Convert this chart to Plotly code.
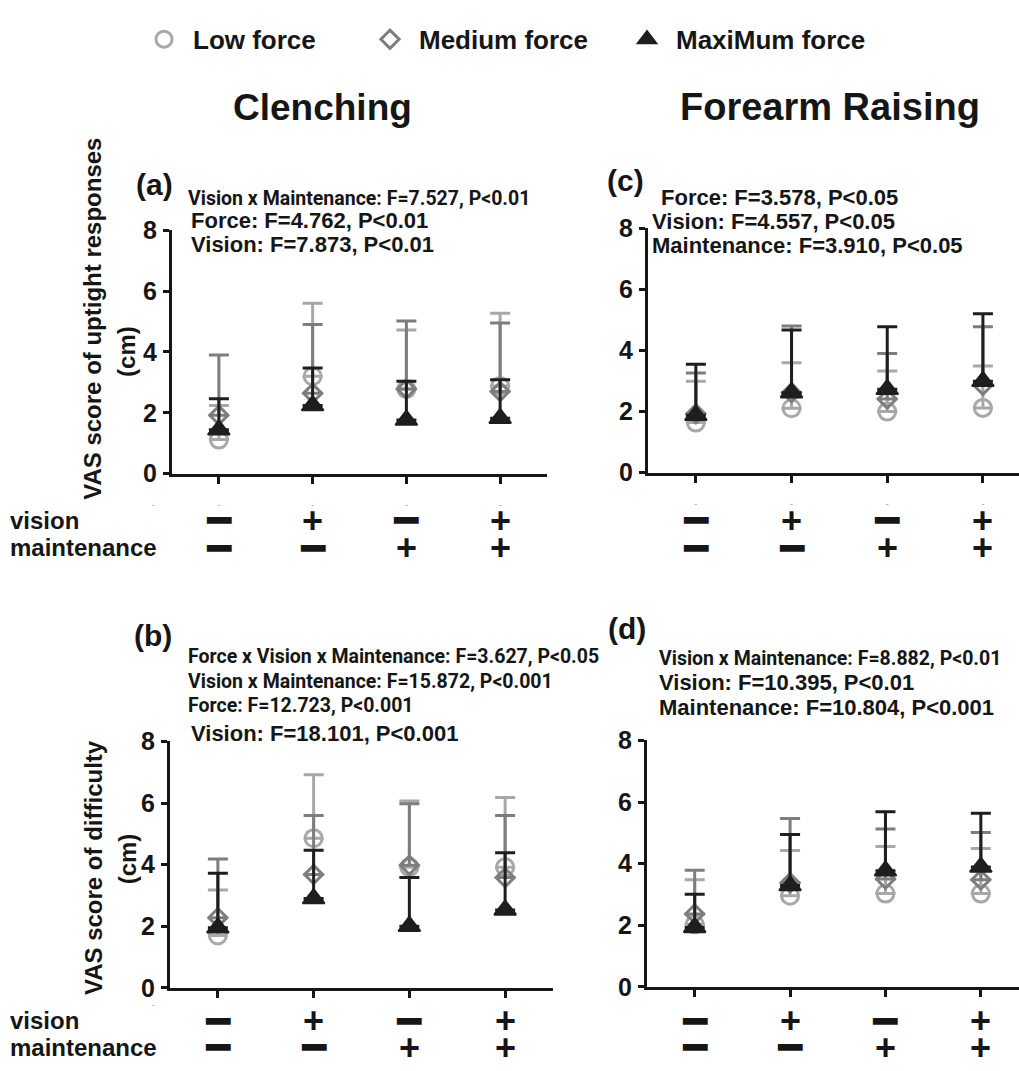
import plotly.graph_objects as go

W, H = 1019, 1071

# ---------------- data ----------------
categories = [0, 1, 2, 3]          # V-/M-, V+/M-, V-/M+, V+/M+
cat_ticktext = ["-", "-", "-", "-"]
vision_signs = ["━", "+", "━", "+"]
maint_signs = ["━", "━", "+", "+"]
y_ticks = [0, 2, 4, 6, 8]

series_names = ["Low force", "Medium force", "MaxiMum force"]

# (a) Clenching - uptight responses
a_low = [1.12, 3.20, 2.78, 2.88]
a_low_err = [1.12, 2.40, 1.94, 2.39]
a_med = [1.92, 2.64, 2.78, 2.70]
a_med_err = [1.98, 2.26, 2.24, 2.25]
a_max = [1.44, 2.24, 1.76, 1.82]
a_max_err = [1.02, 1.23, 1.28, 1.27]

# (c) Forearm raising - uptight responses
c_low = [1.64, 2.11, 2.00, 2.12]
c_low_err = [1.35, 1.49, 1.33, 1.37]
c_med = [1.93, 2.62, 2.41, 2.86]
c_med_err = [1.33, 2.18, 1.49, 1.92]
c_max = [1.88, 2.62, 2.73, 2.99]
c_max_err = [1.67, 2.05, 2.05, 2.21]

# (b) Clenching - difficulty
b_low = [1.70, 4.86, 3.92, 3.92]
b_low_err = [1.48, 2.06, 2.15, 2.26]
b_med = [2.28, 3.68, 3.98, 3.58]
b_med_err = [1.90, 1.92, 2.00, 2.02]
b_max = [1.95, 2.90, 2.00, 2.53]
b_max_err = [1.77, 1.57, 1.58, 1.86]

# (d) Forearm raising - difficulty
d_low = [2.03, 2.96, 3.03, 3.03]
d_low_err = [1.45, 1.47, 1.53, 1.46]
d_med = [2.37, 3.38, 3.50, 3.48]
d_med_err = [1.42, 2.09, 1.63, 1.53]
d_max = [1.93, 3.29, 3.77, 3.89]
d_max_err = [1.08, 1.66, 1.92, 1.75]

stats_a = ["Vision x Maintenance: F=7.527, P<0.01", "Force: F=4.762, P<0.01", "Vision: F=7.873, P<0.01"]
stats_c = ["Force: F=3.578, P<0.05", "Vision: F=4.557, P<0.05", "Maintenance: F=3.910, P<0.05"]
stats_b = ["Force x Vision x Maintenance: F=3.627, P<0.05", "Vision x Maintenance: F=15.872, P<0.001",
           "Force: F=12.723, P<0.001", "Vision: F=18.101, P<0.001"]
stats_d = ["Vision x Maintenance: F=8.882, P<0.01", "Vision: F=10.395, P<0.01", "Maintenance: F=10.804, P<0.001"]

# ---------------- styles ----------------
REG = "Liberation Sans, Arial, Helvetica, sans-serif"
NAR = "Roboto, Liberation Sans, sans-serif"
INK = "#161616"
colors = ["#a8a8a8", "#7d7d7d", "#1e1e1e"]
symbols = ["circle-open", "diamond-open", "triangle-up"]
sizes = [17, 14, 19]
legend_widths = [163, 194, 200]


def px_x(p):
    return p / W


def px_y(p):
    return 1 - p / H


fig = go.Figure()

panels = [
    ("x", "y", [a_low, a_med, a_max], [a_low_err, a_med_err, a_max_err], True),
    ("x2", "y2", [b_low, b_med, b_max], [b_low_err, b_med_err, b_max_err], False),
    ("x3", "y3", [c_low, c_med, c_max], [c_low_err, c_med_err, c_max_err], False),
    ("x4", "y4", [d_low, d_med, d_max], [d_low_err, d_med_err, d_max_err], False),
]

for xa, ya, means, errs, show in panels:
    for i in range(3):
        fig.add_trace(go.Scatter(
            x=categories, y=means[i], xaxis=xa, yaxis=ya,
            mode="markers", name=series_names[i], showlegend=show,
            legendwidth=legend_widths[i],
            marker=dict(symbol=symbols[i], size=sizes[i], color=colors[i],
                        line=dict(color=colors[i], width=3 if i < 2 else 2)),
            error_y=dict(type="data", symmetric=False, array=errs[i],
                         arrayminus=[0] * len(errs[i]),
                         color=colors[i], thickness=3, width=10),
            cliponaxis=False,
        ))

axis_geom = {
    # name: (x0px, x1px, xrange, y_bottom_px, y_top_px)
    "1": (172, 547, [-0.5, 3.5], 472, 222),
    "2": (170, 553, [-0.5, 3.5], 1000, 747),
    "3": (648, 1019, [-0.5, 3.377], 471, 220),
    "4": (647, 1019, [-0.5, 3.40], 999, 746),
}

layout_axes = {}
for k, (x0, x1, xr, yb, yt) in axis_geom.items():
    suffix = "" if k == "1" else k
    layout_axes["xaxis" + suffix] = dict(
        domain=[px_x(x0), px_x(x1)], range=xr, anchor="y" + suffix,
        tickmode="array", tickvals=categories, ticktext=cat_ticktext,
        ticks="outside", ticklen=7, tickwidth=3, tickcolor=INK,
        tickfont=dict(size=9, color="#9a9a9a", family=REG),
        ticklabelstandoff=14,
        showline=True, linewidth=3, linecolor=INK,
        showgrid=False, zeroline=False, fixedrange=True,
    )
    layout_axes["yaxis" + suffix] = dict(
        domain=[px_y(yb), px_y(yt)], range=[0, 8], anchor="x" + suffix,
        tickmode="array", tickvals=y_ticks,
        ticks="outside", ticklen=6, tickwidth=3, tickcolor=INK,
        tickfont=dict(size=25, color=INK, family=REG, weight="bold"),
        ticklabelstandoff=1,
        showline=True, linewidth=3, linecolor=INK,
        showgrid=False, zeroline=False, fixedrange=True,
    )

annotations = []


def add_text(text, x, y, size, family=REG, xanchor="left", yanchor="middle",
             angle=0, color=INK, xref="paper", yref="paper", bold=True):
    annotations.append(dict(
        text=text, x=x, y=y, xref=xref, yref=yref, xanchor=xanchor,
        yanchor=yanchor, showarrow=False, textangle=angle,
        font=dict(family=family, size=size, color=color,
                  weight="bold" if bold else "normal"),
    ))


# Column titles
add_text("Clenching", px_x(322), px_y(96), 37, xanchor="center")
add_text("Forearm Raising", px_x(830), px_y(96), 38, xanchor="center")

# Panel labels
add_text("(a)", px_x(154), px_y(175), 30, xanchor="center")
add_text("(c)", px_x(625), px_y(171), 30, xanchor="center")
add_text("(b)", px_x(153), px_y(638), 30, xanchor="center")
add_text("(d)", px_x(627), px_y(631), 30, xanchor="center")

NS = 19.5   # condensed line size
RS = 22     # regular line size

# Statistics
for txt, narrow, (xp, yp) in zip(stats_a, [True, False, False], [(186, 189), (189, 212), (189, 237)]):
    add_text(txt, px_x(xp), px_y(yp), NS if narrow else RS, family=NAR if narrow else REG)
for txt, narrow, (xp, yp) in zip(stats_c, [False, False, False], [(659, 188), (650, 213), (650, 238)]):
    add_text(txt, px_x(xp), px_y(yp), RS, family=REG)
for txt, narrow, (xp, yp) in zip(stats_b, [True, True, True, False],
                                 [(186, 660), (186, 685), (186, 710), (189, 739)]):
    add_text(txt, px_x(xp), px_y(yp), NS if narrow else RS, family=NAR if narrow else REG)
for txt, narrow, (xp, yp) in zip(stats_d, [True, False, False], [(657, 662), (657, 686), (657, 712)]):
    add_text(txt, px_x(xp), px_y(yp), NS if narrow else RS, family=NAR if narrow else REG)

# Y axis titles
add_text("VAS score of uptight responses", px_x(93), px_y(313), 24, xanchor="center", angle=-90)
add_text("(cm)", px_x(127), px_y(347), 24, xanchor="center", angle=-90)
add_text("VAS score of difficulty", px_x(93), px_y(877), 24, xanchor="center", angle=-90)
add_text("(cm)", px_x(127), px_y(868), 24, xanchor="center", angle=-90)

# Condition rows
for yv, ym in [(520, 548), (1034, 1061)]:
    add_text("vision", px_x(8), px_y(yv), 24)
    add_text("maintenance", px_x(8), px_y(ym), 24)
    add_text("-", px_x(153), px_y(yv - 16), 9, color="#9a9a9a", xanchor="center", bold=False)

for xr, yv, ym in [("x", 520, 548), ("x3", 520, 548), ("x2", 1034, 1061), ("x4", 1034, 1061)]:
    for c, vs, ms in zip(categories, vision_signs, maint_signs):
        for s, yy in [(vs, yv), (ms, ym)]:
            if s == "+":
                add_text(s, c, px_y(yy), 36, xanchor="center", xref=xr)
            else:
                add_text(s, c, px_y(yy), 40, family="DejaVu Sans", xanchor="center", xref=xr, bold=False)

fig.update_layout(
    width=W, height=H,
    margin=dict(l=0, r=0, t=0, b=0),
    paper_bgcolor="white", plot_bgcolor="white",
    font=dict(family=REG, color=INK),
    showlegend=True,
    legend=dict(orientation="h", x=px_x(135), y=px_y(26), xanchor="left", yanchor="middle",
                font=dict(size=26, family=REG, color=INK, weight="bold"),
                itemwidth=48, bgcolor="rgba(0,0,0,0)", borderwidth=0,
                itemclick=False, itemdoubleclick=False),
    annotations=annotations,
    **layout_axes,
)

fig.write_html("out.html")
